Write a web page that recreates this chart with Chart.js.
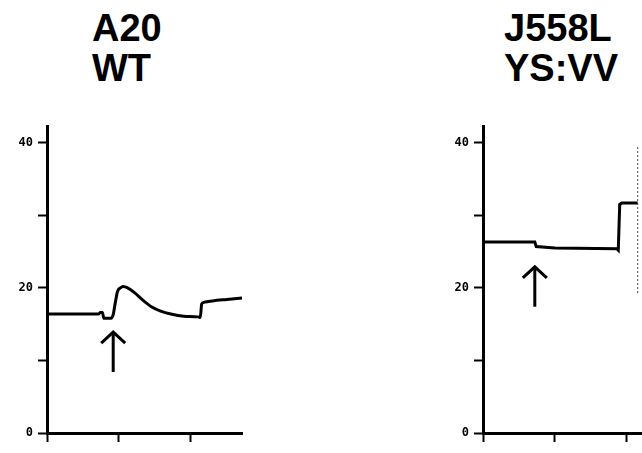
<!DOCTYPE html>
<html>
<head>
<meta charset="utf-8">
<script src="https://cdn.jsdelivr.net/npm/chart.js@4"></script>
<style>
  html, body { margin: 0; padding: 0; background: #fff; overflow: hidden; width: 642px; height: 453px; }
  .panel { position: absolute; top: 100px; width: 260px; height: 353px; }
  .title { position: absolute; font-family: "Liberation Sans", Arial, sans-serif; font-weight: bold;
           font-size: 38px; line-height: 40px; color: #000; white-space: nowrap; }
</style>
</head>
<body>
<div class="title" style="left:92px; top:8px;">A20<br>WT</div>
<div class="title" style="left:504px; top:8px;">J558L<br>YS:VV</div>
<div class="panel" style="left:0px;"><canvas id="wtChart" width="260" height="353"></canvas></div>
<div class="panel" style="left:436px;"><canvas id="ysChart" width="260" height="353"></canvas></div>

<script>
// time axis runs 0..2.71 (tick every unit), signal 0..42
const xTicks = [0, 1, 2];
const yTicks = [0, 10, 20, 30, 40];
const yLabels = { 0: '0', 20: '20', 40: '40' };

const wtX = [0, 0.72, 0.74, 0.77, 0.79, 0.89, 0.92, 0.95, 0.98, 1.02, 1.06, 1.12, 1.22, 1.32, 1.45, 1.58, 1.72, 1.90, 2.10, 2.13, 2.15, 2.18, 2.30, 2.50, 2.71];
const wtY = [16.4, 16.4, 16.6, 16.6, 15.8, 15.8, 16.3, 18.0, 19.5, 20.0, 20.2, 20.0, 19.3, 18.4, 17.4, 16.8, 16.4, 16.1, 16.0, 15.9, 17.8, 18.0, 18.2, 18.4, 18.6];

const ysX = [0, 0.72, 0.74, 1.00, 1.86, 1.88, 1.90, 1.93, 2.15];
const ysY = [26.3, 26.3, 25.7, 25.5, 25.4, 25.2, 31.5, 31.7, 31.7];

// stimulus arrows: x, tail, tip
const wtArrow = [0.92, 8.4, 13.9];
const ysArrow = [0.72, 17.4, 22.9];
// edge of the scanned trace on the right panel
const ysEdge = [2.15, 19.0, 39.4];

const arrowPlugin = {
  id: 'marks',
  afterDatasetsDraw(chart, args, opts) {
    const ctx = chart.ctx;
    const xs = chart.scales.x, ys = chart.scales.y;
    ctx.save();
    ctx.strokeStyle = '#000';
    if (opts.arrow) {
      const [ax, tail, tip] = opts.arrow;
      const px = xs.getPixelForValue(ax);
      const y0 = ys.getPixelForValue(tail), y1 = ys.getPixelForValue(tip);
      ctx.lineWidth = 3;
      ctx.beginPath();
      ctx.moveTo(px, y0);
      ctx.lineTo(px, y1);
      ctx.stroke();
      ctx.lineWidth = 3;
      ctx.beginPath();
      ctx.moveTo(px - 12, y1 + 11);
      ctx.lineTo(px, y1);
      ctx.lineTo(px + 12, y1 + 11);
      ctx.stroke();
    }
    if (opts.edge) {
      const [ex, lo, hi] = opts.edge;
      const px = xs.getPixelForValue(ex);
      ctx.lineWidth = 1;
      ctx.strokeStyle = '#444';
      ctx.setLineDash([2, 2]);
      ctx.beginPath();
      ctx.moveTo(px, ys.getPixelForValue(hi));
      ctx.lineTo(px, ys.getPixelForValue(lo));
      ctx.stroke();
    }
    ctx.restore();
  }
};

function makeChart(id, xs, ys, smooth, marks) {
  return new Chart(document.getElementById(id), {
    type: 'line',
    data: {
      datasets: [{
        data: xs.map((x, i) => ({ x: x, y: ys[i] })),
        borderColor: '#000',
        borderWidth: 3,
        pointRadius: 0,
        fill: false,
        cubicInterpolationMode: smooth ? 'monotone' : 'default',
        tension: 0
      }]
    },
    options: {
      responsive: false,
      animation: false,
      layout: { padding: { top: 26, right: 18, left: 0, bottom: 0 } },
      plugins: { legend: { display: false }, tooltip: { enabled: false }, marks: marks },
      scales: {
        x: {
          type: 'linear', min: 0, max: 2.71,
          afterBuildTicks: s => { s.ticks = xTicks.map(v => ({ value: v })); },
          afterFit: s => { s.height = 20; },
          ticks: { callback: () => '' },
          border: { color: '#000', width: 3 },
          grid: { drawOnChartArea: false, tickLength: 9, tickWidth: 2, tickColor: '#000' }
        },
        y: {
          type: 'linear', min: 0, max: 42.3,
          afterBuildTicks: s => { s.ticks = yTicks.map(v => ({ value: v })); },
          afterFit: s => { s.width = 47; },
          ticks: {
            callback: v => yLabels[v] || '',
            color: '#000', padding: 5,
            font: { family: 'DejaVu Sans Mono', weight: 'bold', size: 12 }
          },
          border: { color: '#000', width: 3 },
          grid: { drawOnChartArea: false, tickLength: 9, tickWidth: 2, tickColor: '#000' }
        }
      }
    },
    plugins: [arrowPlugin]
  });
}

makeChart('wtChart', wtX, wtY, true, { arrow: wtArrow });
makeChart('ysChart', ysX, ysY, false, { arrow: ysArrow, edge: ysEdge });
</script>
</body>
</html>
